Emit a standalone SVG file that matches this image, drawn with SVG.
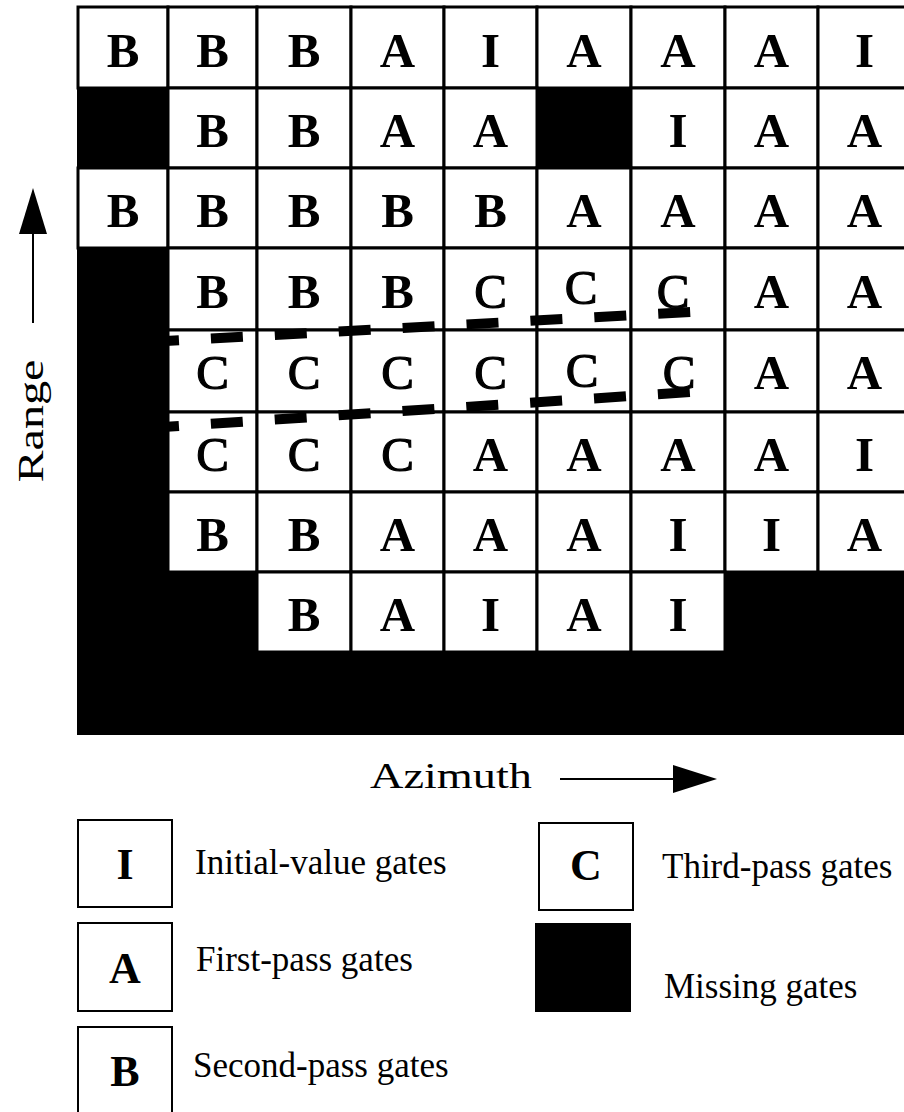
<svg xmlns="http://www.w3.org/2000/svg" width="904" height="1112" viewBox="0 0 904 1112">
<style>
.cell{fill:#fff;stroke:#000;stroke-width:3}
.miss{fill:#000}
.g{font-family:"Liberation Serif","Times New Roman",serif;font-weight:bold;font-size:49px;text-anchor:middle;fill:#000}
.c{font-weight:normal;stroke:#000;stroke-width:1.2}
.lbl{font-family:"Liberation Serif","Times New Roman",serif;font-size:35px;fill:#000}
.lbox{fill:#fff;stroke:#000;stroke-width:2}
.lg{font-family:"Liberation Serif","Times New Roman",serif;font-weight:bold;font-size:44px;text-anchor:middle;fill:#000}
.dash{stroke:#000;stroke-width:10;stroke-dasharray:32 32;fill:none}
</style>
<rect width="904" height="1112" fill="#fff"/>
<g id="grid">
<!-- row 0 -->
<g id="r0c0"><rect class="cell" x="78" y="7" width="90" height="81"/><text class="g" x="123" y="67">B</text></g>
<g id="r0c1"><rect class="cell" x="168" y="7" width="89" height="81"/><text class="g" x="212.5" y="67">B</text></g>
<g id="r0c2"><rect class="cell" x="257" y="7" width="94" height="81"/><text class="g" x="304" y="67">B</text></g>
<g id="r0c3"><rect class="cell" x="351" y="7" width="93" height="81"/><text class="g" x="397.5" y="67">A</text></g>
<g id="r0c4"><rect class="cell" x="444" y="7" width="93" height="81"/><text class="g" x="490.5" y="67">I</text></g>
<g id="r0c5"><rect class="cell" x="537" y="7" width="94" height="81"/><text class="g" x="584" y="67">A</text></g>
<g id="r0c6"><rect class="cell" x="631" y="7" width="94" height="81"/><text class="g" x="678" y="67">A</text></g>
<g id="r0c7"><rect class="cell" x="725" y="7" width="93" height="81"/><text class="g" x="771.5" y="67">A</text></g>
<g id="r0c8"><rect class="cell" x="818" y="7" width="93" height="81"/><text class="g" x="864.5" y="67">I</text></g>
<!-- row 1 -->
<g id="r1c1"><rect class="cell" x="168" y="88" width="89" height="80"/><text class="g" x="212.5" y="147">B</text></g>
<g id="r1c2"><rect class="cell" x="257" y="88" width="94" height="80"/><text class="g" x="304" y="147">B</text></g>
<g id="r1c3"><rect class="cell" x="351" y="88" width="93" height="80"/><text class="g" x="397.5" y="147">A</text></g>
<g id="r1c4"><rect class="cell" x="444" y="88" width="93" height="80"/><text class="g" x="490.5" y="147">A</text></g>
<g id="r1c6"><rect class="cell" x="631" y="88" width="94" height="80"/><text class="g" x="678" y="147">I</text></g>
<g id="r1c7"><rect class="cell" x="725" y="88" width="93" height="80"/><text class="g" x="771.5" y="147">A</text></g>
<g id="r1c8"><rect class="cell" x="818" y="88" width="93" height="80"/><text class="g" x="864.5" y="147">A</text></g>
<!-- row 2 -->
<g id="r2c0"><rect class="cell" x="78" y="168" width="90" height="80"/><text class="g" x="123" y="227">B</text></g>
<g id="r2c1"><rect class="cell" x="168" y="168" width="89" height="80"/><text class="g" x="212.5" y="227">B</text></g>
<g id="r2c2"><rect class="cell" x="257" y="168" width="94" height="80"/><text class="g" x="304" y="227">B</text></g>
<g id="r2c3"><rect class="cell" x="351" y="168" width="93" height="80"/><text class="g" x="397.5" y="227">B</text></g>
<g id="r2c4"><rect class="cell" x="444" y="168" width="93" height="80"/><text class="g" x="490.5" y="227">B</text></g>
<g id="r2c5"><rect class="cell" x="537" y="168" width="94" height="80"/><text class="g" x="584" y="227">A</text></g>
<g id="r2c6"><rect class="cell" x="631" y="168" width="94" height="80"/><text class="g" x="678" y="227">A</text></g>
<g id="r2c7"><rect class="cell" x="725" y="168" width="93" height="80"/><text class="g" x="771.5" y="227">A</text></g>
<g id="r2c8"><rect class="cell" x="818" y="168" width="93" height="80"/><text class="g" x="864.5" y="227">A</text></g>
<!-- row 3 -->
<g id="r3c1"><rect class="cell" x="168" y="248" width="89" height="82"/><text class="g" x="212.5" y="308">B</text></g>
<g id="r3c2"><rect class="cell" x="257" y="248" width="94" height="82"/><text class="g" x="304" y="308">B</text></g>
<g id="r3c3"><rect class="cell" x="351" y="248" width="93" height="82"/><text class="g" x="397.5" y="308">B</text></g>
<g id="r3c4"><rect class="cell" x="444" y="248" width="93" height="82"/><text class="g c" x="490.5" y="308">C</text></g>
<g id="r3c5"><rect class="cell" x="537" y="248" width="94" height="82"/><text class="g c" x="581" y="304">C</text></g>
<g id="r3c6"><rect class="cell" x="631" y="248" width="94" height="82"/><text class="g c" x="673" y="308">C</text></g>
<g id="r3c7"><rect class="cell" x="725" y="248" width="93" height="82"/><text class="g" x="771.5" y="308">A</text></g>
<g id="r3c8"><rect class="cell" x="818" y="248" width="93" height="82"/><text class="g" x="864.5" y="308">A</text></g>
<!-- row 4 -->
<g id="r4c1"><rect class="cell" x="168" y="330" width="89" height="82"/><text class="g c" x="212.5" y="389">C</text></g>
<g id="r4c2"><rect class="cell" x="257" y="330" width="94" height="82"/><text class="g c" x="304" y="389">C</text></g>
<g id="r4c3"><rect class="cell" x="351" y="330" width="93" height="82"/><text class="g c" x="397.5" y="389">C</text></g>
<g id="r4c4"><rect class="cell" x="444" y="330" width="93" height="82"/><text class="g c" x="490.5" y="389">C</text></g>
<g id="r4c5"><rect class="cell" x="537" y="330" width="94" height="82"/><text class="g c" x="582" y="387">C</text></g>
<g id="r4c6"><rect class="cell" x="631" y="330" width="94" height="82"/><text class="g c" x="679" y="389">C</text></g>
<g id="r4c7"><rect class="cell" x="725" y="330" width="93" height="82"/><text class="g" x="771.5" y="389">A</text></g>
<g id="r4c8"><rect class="cell" x="818" y="330" width="93" height="82"/><text class="g" x="864.5" y="389">A</text></g>
<!-- row 5 -->
<g id="r5c1"><rect class="cell" x="168" y="412" width="89" height="80"/><text class="g c" x="212.5" y="471">C</text></g>
<g id="r5c2"><rect class="cell" x="257" y="412" width="94" height="80"/><text class="g c" x="304" y="471">C</text></g>
<g id="r5c3"><rect class="cell" x="351" y="412" width="93" height="80"/><text class="g c" x="397.5" y="471">C</text></g>
<g id="r5c4"><rect class="cell" x="444" y="412" width="93" height="80"/><text class="g" x="490.5" y="471">A</text></g>
<g id="r5c5"><rect class="cell" x="537" y="412" width="94" height="80"/><text class="g" x="584" y="471">A</text></g>
<g id="r5c6"><rect class="cell" x="631" y="412" width="94" height="80"/><text class="g" x="678" y="471">A</text></g>
<g id="r5c7"><rect class="cell" x="725" y="412" width="93" height="80"/><text class="g" x="771.5" y="471">A</text></g>
<g id="r5c8"><rect class="cell" x="818" y="412" width="93" height="80"/><text class="g" x="864.5" y="471">I</text></g>
<!-- row 6 -->
<g id="r6c1"><rect class="cell" x="168" y="492" width="89" height="80"/><text class="g" x="212.5" y="551">B</text></g>
<g id="r6c2"><rect class="cell" x="257" y="492" width="94" height="80"/><text class="g" x="304" y="551">B</text></g>
<g id="r6c3"><rect class="cell" x="351" y="492" width="93" height="80"/><text class="g" x="397.5" y="551">A</text></g>
<g id="r6c4"><rect class="cell" x="444" y="492" width="93" height="80"/><text class="g" x="490.5" y="551">A</text></g>
<g id="r6c5"><rect class="cell" x="537" y="492" width="94" height="80"/><text class="g" x="584" y="551">A</text></g>
<g id="r6c6"><rect class="cell" x="631" y="492" width="94" height="80"/><text class="g" x="678" y="551">I</text></g>
<g id="r6c7"><rect class="cell" x="725" y="492" width="93" height="80"/><text class="g" x="771.5" y="551">I</text></g>
<g id="r6c8"><rect class="cell" x="818" y="492" width="93" height="80"/><text class="g" x="864.5" y="551">A</text></g>
<!-- row 7 -->
<g id="r7c2"><rect class="cell" x="257" y="572" width="94" height="80"/><text class="g" x="304" y="631">B</text></g>
<g id="r7c3"><rect class="cell" x="351" y="572" width="93" height="80"/><text class="g" x="397.5" y="631">A</text></g>
<g id="r7c4"><rect class="cell" x="444" y="572" width="93" height="80"/><text class="g" x="490.5" y="631">I</text></g>
<g id="r7c5"><rect class="cell" x="537" y="572" width="94" height="80"/><text class="g" x="584" y="631">A</text></g>
<g id="r7c6"><rect class="cell" x="631" y="572" width="94" height="80"/><text class="g" x="678" y="631">I</text></g>
</g>
<g id="missing-gates">
<rect class="miss" x="77" y="87" width="92" height="82"/>
<rect class="miss" x="536" y="87" width="96" height="82"/>
<rect class="miss" x="77" y="247" width="92" height="488"/>
<rect class="miss" x="77" y="571" width="181" height="164"/>
<rect class="miss" x="724" y="571" width="190" height="164"/>
<rect class="miss" x="77" y="651" width="840" height="84"/>
</g>
<g id="connectors">
<line class="dash" x1="147" y1="342" x2="691" y2="312"/>
<line class="dash" x1="147" y1="428" x2="691" y2="392"/>
</g>
<g id="range-axis">
<line x1="33" y1="230" x2="33" y2="323" stroke="#000" stroke-width="2"/>
<polygon points="33,188 19,234 47,234" fill="#000"/>
<text class="lbl" transform="translate(43,421) rotate(-90)" text-anchor="middle" font-size="38" textLength="123" lengthAdjust="spacingAndGlyphs">Range</text>
</g>
<g id="azimuth-axis">
<text class="lbl" x="370" y="788" textLength="162" lengthAdjust="spacingAndGlyphs">Azimuth</text>
<line x1="560" y1="779" x2="676" y2="779" stroke="#000" stroke-width="2"/>
<polygon points="673,765 717,779 673,793" fill="#000"/>
</g>
<g id="legend-I">
<rect class="lbox" x="78" y="820" width="94" height="87"/>
<text class="lg" x="125" y="879">I</text>
<text class="lbl" x="195" y="874">Initial-value gates</text>
</g>
<g id="legend-A">
<rect class="lbox" x="78" y="923" width="94" height="88"/>
<text class="lg" x="125" y="983">A</text>
<text class="lbl" x="196" y="971">First-pass gates</text>
</g>
<g id="legend-B">
<rect class="lbox" x="78" y="1027" width="94" height="95"/>
<text class="lg" x="125" y="1086">B</text>
<text class="lbl" x="193" y="1077">Second-pass gates</text>
</g>
<g id="legend-C">
<rect class="lbox" x="539" y="823" width="94" height="87"/>
<text class="lg" x="586" y="880">C</text>
<text class="lbl" x="662" y="878">Third-pass gates</text>
</g>
<g id="legend-missing">
<rect x="535" y="923" width="96" height="89" fill="#000"/>
<text class="lbl" x="664" y="998">Missing gates</text>
</g>
</svg>
